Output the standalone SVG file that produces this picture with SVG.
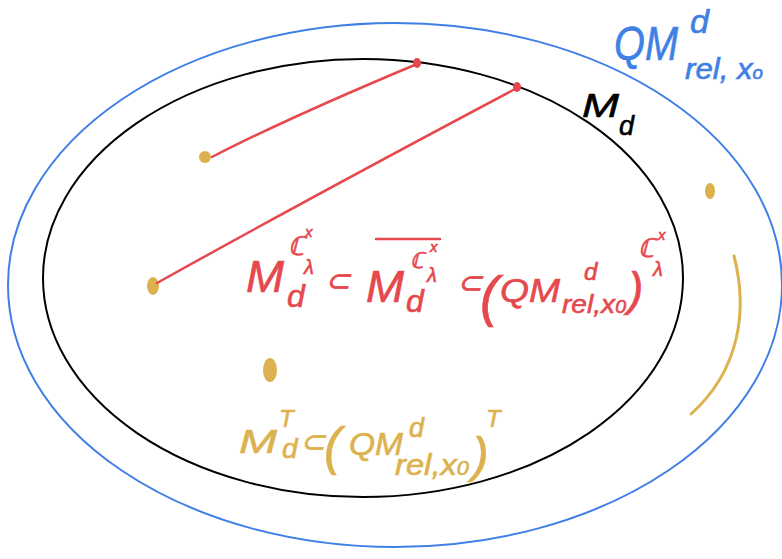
<svg xmlns="http://www.w3.org/2000/svg" width="782" height="559" viewBox="0 0 782 559">
<style>
.t{font-family:"Liberation Sans",Arial,sans-serif;font-style:italic;stroke-width:0.6}
.blue{fill:#3f7fe6;stroke:#3f7fe6}
.red{fill:#e5484d;stroke:#e5484d}
.gold{fill:#dcb24e;stroke:#dcb24e}
.blk{fill:#000;stroke:#000}
.ln{fill:none;stroke-linecap:round}
.dot{stroke:none}
</style>
<rect width="782" height="559" fill="#fff"/>
<g id="qm-set">
<ellipse cx="395" cy="285" rx="387" ry="262" class="ln" stroke="#3f7fe6" stroke-width="2"/>
<text class="t blue" x="614" y="60" font-size="48" textLength="64" lengthAdjust="spacingAndGlyphs">QM</text>
<text class="t blue" x="690" y="33" font-size="34">d</text>
<text class="t blue" x="685" y="79" font-size="30" textLength="78" lengthAdjust="spacingAndGlyphs">rel, x<tspan font-size="18">o</tspan></text>
</g>
<g id="md-set">
<ellipse cx="363" cy="278" rx="320" ry="219" class="ln" stroke="#000" stroke-width="2"/>
<text class="t blk" x="582" y="117" font-size="34" textLength="37" lengthAdjust="spacingAndGlyphs">M</text>
<text class="t blk" x="619" y="135" font-size="27">d</text>
</g>
<g id="points">
<ellipse cx="417" cy="63" rx="4" ry="5" class="red dot"/>
<ellipse cx="517" cy="87" rx="4" ry="5" class="red dot"/>
<ellipse cx="205" cy="157" rx="6" ry="6" class="gold dot"/>
<ellipse cx="153" cy="286" rx="6" ry="9" class="gold dot"/>
<ellipse cx="270" cy="370" rx="7" ry="12" class="gold dot"/>
<ellipse cx="710" cy="191" rx="5" ry="8" class="gold dot"/>
</g>
<g id="connectors">
<path d="M212 157 C280 122 350 92 417 64" class="ln" stroke="#e5484d" stroke-width="2.5"/>
<path d="M157 283 C270 220 400 150 517 88" class="ln" stroke="#e5484d" stroke-width="2.5"/>
<path d="M734 256 C748 310 740 370 691 414" class="ln" stroke="#dcb24e" stroke-width="3"/>
</g>
<g id="red-formula">
<text class="t red" x="246" y="292" font-size="44" textLength="38" lengthAdjust="spacingAndGlyphs">M</text>
<text class="t red" x="287" y="307" font-size="32">d</text>
<text class="t red" x="288" y="255" font-size="26">ℂ</text>
<text class="t red" x="305" y="237" font-size="15">x</text>
<text class="t red" x="304" y="274" font-size="20">λ</text>
<text class="t red" x="325" y="291" font-size="30">⊂</text>
<line x1="376" y1="239" x2="440" y2="239" class="ln" stroke="#e5484d" stroke-width="2.5"/>
<text class="t red" x="366" y="302" font-size="44" textLength="38" lengthAdjust="spacingAndGlyphs">M</text>
<text class="t red" x="406" y="312" font-size="32">d</text>
<text class="t red" x="410" y="268" font-size="22">ℂ</text>
<text class="t red" x="430" y="252" font-size="15">x</text>
<text class="t red" x="427" y="282" font-size="20">λ</text>
<text class="t red" x="457" y="293" font-size="30">⊂</text>
<text class="t red" x="480" y="315" font-size="56">(</text>
<text class="t red" x="500" y="302" font-size="34" textLength="60" lengthAdjust="spacingAndGlyphs">QM</text>
<text class="t red" x="584" y="280" font-size="24">d</text>
<text class="t red" x="562" y="313" font-size="26" textLength="64" lengthAdjust="spacingAndGlyphs">rel,x<tspan font-size="18">0</tspan></text>
<text class="t red" x="628" y="305" font-size="46">)</text>
<text class="t red" x="638" y="257" font-size="26">ℂ</text>
<text class="t red" x="658" y="240" font-size="15">x</text>
<text class="t red" x="653" y="276" font-size="20">λ</text>
</g>
<g id="gold-formula">
<text class="t gold" x="239" y="453" font-size="34" textLength="38" lengthAdjust="spacingAndGlyphs">M</text>
<text class="t gold" x="282" y="458" font-size="28">d</text>
<text class="t gold" x="279" y="427" font-size="24">T</text>
<text class="t gold" x="300" y="452" font-size="30">⊂</text>
<text class="t gold" x="324" y="464" font-size="52">(</text>
<text class="t gold" x="349" y="455" font-size="32" textLength="54" lengthAdjust="spacingAndGlyphs">QM</text>
<text class="t gold" x="409" y="437" font-size="27">d</text>
<text class="t gold" x="395" y="475" font-size="30" textLength="74" lengthAdjust="spacingAndGlyphs">rel,x<tspan font-size="20">0</tspan></text>
<text class="t gold" x="472" y="472" font-size="50">)</text>
<text class="t gold" x="486" y="427" font-size="24">T</text>
</g>
</svg>
